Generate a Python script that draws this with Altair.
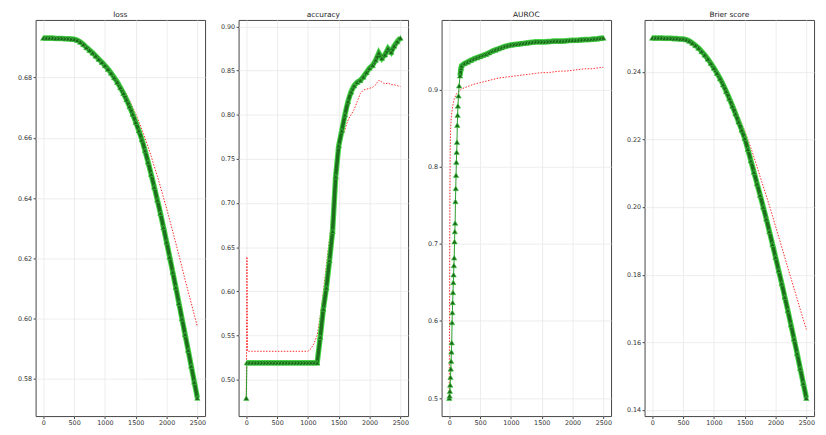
import altair as alt
import pandas as pd

# iterations (x) ---------------------------------------------------------
steps = list(range(0, 2550, 50))
x_ticks = [0, 500, 1000, 1500, 2000, 2500]

# loss -------------------------------------------------------------------
loss_train = [0.6931, 0.6931, 0.6931, 0.6931, 0.6930, 0.6930, 0.6930, 0.6929, 0.6929, 0.6928,
              0.6927, 0.6924, 0.6918, 0.6910, 0.6900, 0.6891, 0.6882, 0.6872, 0.6861, 0.6851,
              0.6840, 0.6828, 0.6815, 0.6800, 0.6785, 0.6767, 0.6748, 0.6727, 0.6704, 0.6679,
              0.6652, 0.6624, 0.6594, 0.6558, 0.6520, 0.6479, 0.6437, 0.6394, 0.6350, 0.6303,
              0.6255, 0.6205, 0.6155, 0.6104, 0.6052, 0.6000, 0.5948, 0.5896, 0.5843, 0.5790, 0.5737]
loss_val = [0.6931, 0.6931, 0.6931, 0.6931, 0.6930, 0.6930, 0.6930, 0.6929, 0.6929, 0.6928,
            0.6927, 0.6925, 0.6919, 0.6911, 0.6902, 0.6894, 0.6885, 0.6876, 0.6866, 0.6856,
            0.6846, 0.6835, 0.6823, 0.6810, 0.6796, 0.6780, 0.6763, 0.6744, 0.6724, 0.6702,
            0.6679, 0.6654, 0.6628, 0.6600, 0.6570, 0.6539, 0.6506, 0.6473, 0.6438, 0.6402,
            0.6366, 0.6328, 0.6290, 0.6251, 0.6211, 0.6171, 0.6130, 0.6091, 0.6052, 0.6013, 0.5973]

# accuracy ---------------------------------------------------------------
acc_x_train = [0, 10] + list(range(50, 2550, 50))
acc_train = [0.479, 0.519,
             0.519, 0.519, 0.519, 0.519, 0.519, 0.519, 0.519, 0.519, 0.519, 0.519,
             0.519, 0.519, 0.519, 0.519, 0.519, 0.519, 0.519, 0.519, 0.519, 0.519,
             0.519, 0.519, 0.519,
             0.548, 0.580, 0.604, 0.635, 0.668, 0.730, 0.765, 0.782, 0.800, 0.815,
             0.826, 0.833, 0.837, 0.839, 0.843, 0.848, 0.853, 0.856, 0.862, 0.870,
             0.864, 0.868, 0.875, 0.871, 0.878, 0.883, 0.887]
acc_x_val = [0, 10, 20] + list(range(50, 2550, 50))
acc_val = [0.479, 0.639, 0.532,
           0.532, 0.532, 0.532, 0.532, 0.532, 0.532, 0.532, 0.532, 0.532, 0.532,
           0.532, 0.532, 0.532, 0.532, 0.532, 0.532, 0.532, 0.532, 0.532, 0.532,
           0.535, 0.541, 0.550,
           0.572, 0.600, 0.630, 0.660, 0.692, 0.735, 0.762, 0.776, 0.783, 0.794,
           0.800, 0.806, 0.815, 0.824, 0.828, 0.829, 0.830, 0.831, 0.834, 0.839,
           0.837, 0.835, 0.836, 0.834, 0.834, 0.833, 0.832]

# AUROC ------------------------------------------------------------------
auc_x_train = list(range(0, 145, 5)) + [150, 160, 175, 190] + list(range(200, 2550, 50))
auc_train = [0.500, 0.503, 0.509, 0.517, 0.527, 0.538, 0.548, 0.560, 0.572, 0.598,
             0.611, 0.624, 0.637, 0.650, 0.660, 0.672, 0.682, 0.703, 0.716, 0.727,
             0.755, 0.772, 0.789, 0.806, 0.819, 0.832, 0.854, 0.867, 0.879,
             0.892, 0.905, 0.918, 0.928,
             0.931, 0.934, 0.936, 0.938, 0.940, 0.9415, 0.943, 0.9445, 0.946, 0.948,
             0.950, 0.9515, 0.953, 0.9545, 0.956, 0.957, 0.958, 0.9585, 0.959, 0.9595,
             0.960, 0.9605, 0.961, 0.9615, 0.962, 0.962, 0.962, 0.962, 0.9623, 0.9626,
             0.963, 0.963, 0.963, 0.963, 0.9635, 0.9638, 0.964, 0.964, 0.9643, 0.9647,
             0.965, 0.965, 0.9653, 0.9657, 0.966, 0.9665, 0.967]
auc_x_val = [0, 5, 10, 15, 20, 30, 50, 80, 120, 200] + list(range(300, 2600, 100))
auc_val = [0.500, 0.640, 0.760, 0.820, 0.845, 0.862, 0.876, 0.888, 0.895, 0.901,
           0.904, 0.907, 0.909, 0.911, 0.913, 0.915, 0.916, 0.917, 0.918, 0.919,
           0.920, 0.921, 0.922, 0.922, 0.923, 0.924, 0.924, 0.925, 0.926, 0.927,
           0.927, 0.928, 0.929]

# Brier score ------------------------------------------------------------
brier_train = [0.2500, 0.2500, 0.2500, 0.2500, 0.2499, 0.2499, 0.2499, 0.2498, 0.2498, 0.2497,
               0.2497, 0.2495, 0.2491, 0.2485, 0.2478, 0.2470, 0.2460, 0.2450, 0.2438, 0.2425,
               0.2411, 0.2396, 0.2380, 0.2362, 0.2342, 0.2321, 0.2299, 0.2276, 0.2252, 0.2228,
               0.2203, 0.2171, 0.2137, 0.2103, 0.2069, 0.2035, 0.2000, 0.1965, 0.1928, 0.1890,
               0.1852, 0.1813, 0.1774, 0.1734, 0.1694, 0.1652, 0.1610, 0.1567, 0.1523, 0.1479, 0.1435]
brier_val = [0.2500, 0.2500, 0.2500, 0.2500, 0.2499, 0.2499, 0.2499, 0.2498, 0.2498, 0.2497,
             0.2497, 0.2495, 0.2492, 0.2486, 0.2480, 0.2472, 0.2463, 0.2453, 0.2442, 0.2430,
             0.2417, 0.2403, 0.2388, 0.2371, 0.2353, 0.2334, 0.2313, 0.2292, 0.2270, 0.2248,
             0.2225, 0.2200, 0.2175, 0.2147, 0.2119, 0.2090, 0.2061, 0.2033, 0.2004, 0.1974,
             0.1943, 0.1913, 0.1882, 0.1851, 0.1820, 0.1790, 0.1759, 0.1729, 0.1698, 0.1668, 0.1638]

PW, PH = 172, 402


def panel(title, xs_t, ys_t, xs_v, ys_v, ydom, yticks, yfmt, band_from=0):
    dt = pd.DataFrame({"x": xs_t, "y": ys_t})
    dv = pd.DataFrame({"x": xs_v, "y": ys_v})
    xenc = alt.X("x:Q", scale=alt.Scale(domain=[-125, 2625], nice=False, zero=False),
                 axis=alt.Axis(values=x_ticks, format="d", title=None, labelFlush=False))
    yenc = alt.Y("y:Q", scale=alt.Scale(domain=ydom, nice=False, zero=False),
                 axis=alt.Axis(values=yticks, format=yfmt, title=None))
    band_filter = alt.datum.x >= band_from
    red = alt.Chart(dv).mark_line(color="#ff2a2a", strokeWidth=1, strokeDash=[1.5, 1.5]).encode(x=xenc, y=yenc)
    gthin = alt.Chart(dt).mark_line(color="#2a9a2a", strokeWidth=1).encode(x=xenc, y=yenc)
    gedge = alt.Chart(dt).transform_filter(band_filter).mark_line(
        color="#48d848", strokeWidth=5.5).encode(x=xenc, y=yenc)
    gline = alt.Chart(dt).transform_filter(band_filter).mark_line(
        color="#1d6e1d", strokeWidth=3.5).encode(x=xenc, y=yenc)
    gpts = alt.Chart(dt).mark_point(shape="triangle-up", filled=True, fill="#1b661b",
                                    stroke="#46d046", strokeWidth=0.6, size=30,
                                    opacity=1).encode(x=xenc, y=yenc)
    return alt.layer(red, gthin, gedge, gline, gpts).properties(width=PW, height=PH, title=title)


p1 = panel("loss", steps, loss_train, steps, loss_val,
           [0.5677, 0.6991], [0.58, 0.60, 0.62, 0.64, 0.66, 0.68], ".2f")
p2 = panel("accuracy", acc_x_train, acc_train, acc_x_val, acc_val,
           [0.4586, 0.9074], [0.50, 0.55, 0.60, 0.65, 0.70, 0.75, 0.80, 0.85, 0.90], ".2f",
           band_from=10)
p3 = panel("AUROC", auc_x_train, auc_train, auc_x_val, auc_val,
           [0.4767, 0.9903], [0.5, 0.6, 0.7, 0.8, 0.9], ".1f", band_from=175)
p4 = panel("Brier score", steps, brier_train, steps, brier_val,
           [0.1382, 0.2553], [0.14, 0.16, 0.18, 0.20, 0.22, 0.24], ".2f")

chart = (
    alt.hconcat(p1, p2, p3, p4, spacing=34)
    .properties(bounds="flush", padding={"left": 9, "top": 0, "right": 0, "bottom": 0})
    .configure_view(stroke="#444444", strokeWidth=1)
    .configure_axis(grid=True, gridColor="#e8e8e8", gridWidth=0.8, domain=False,
                    tickColor="#444444", tickSize=2.5, labelFontSize=6.5,
                    labelColor="#333333", labelFont="DejaVu Sans", labelPadding=1.5)
    .configure_title(fontSize=7.5, font="DejaVu Sans", fontWeight="normal", offset=1,
                     color="#222222")
)

chart.save("out.html", embed_options={"renderer": "svg", "actions": False})
